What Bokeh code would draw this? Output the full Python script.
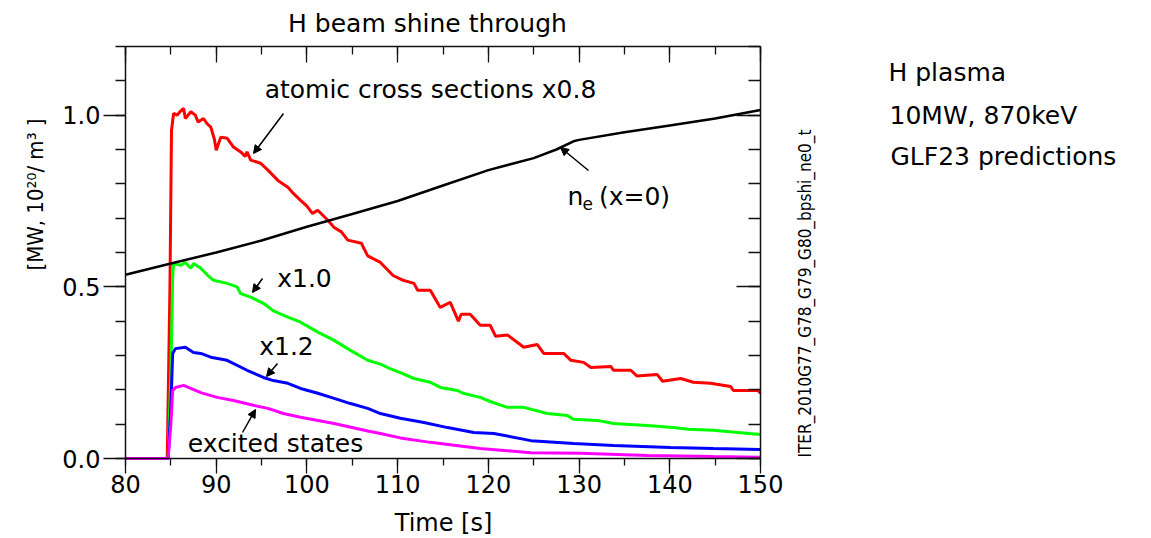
import math
from bokeh.plotting import figure
from bokeh.models import (Range1d, LinearAxis, FixedTicker, PrintfTickFormatter,
                          Label, Arrow, NormalHead)
from bokeh.embed import file_html
from bokeh.resources import INLINE

# ---------------- data ----------------
x_ticks = [80, 90, 100, 110, 120, 130, 140, 150]
x_minor = [80, 85, 90, 95, 100, 105, 110, 115, 120, 125, 130, 135, 140, 145, 150]
y_ticks = [0.0, 0.5, 1.0]
y_minor = [0.0, 0.1, 0.2, 0.3, 0.4, 0.5, 0.6, 0.7, 0.8, 0.9, 1.0, 1.1, 1.2]
X_LIM = (80, 150)
Y_LIM = (0.0, 1.2)

t_red = [80, 84.6, 84.9, 85.07, 85.3, 85.7, 86.0, 86.4, 86.6, 87.2, 87.7, 88.0, 88.6, 89.0,
         89.4, 89.8, 90.0, 90.5, 91.2, 91.9, 92.7, 93.2, 93.4, 93.8, 94.9, 95.7, 96.8, 97.9,
         98.5, 99.3, 100.0, 100.6, 101.2, 102.3, 103.0, 103.8, 104.5, 106.0, 106.7, 108.1,
         109.5, 110.5, 111.8, 112.2, 113.6, 114.7, 115.8, 116.7, 117.0, 118.0, 119.1, 120.2,
         120.8, 122.1, 123.9, 125.4, 126.1, 128.3, 129.1, 130.5, 131.3, 133.5, 133.8, 135.7,
         136.4, 138.6, 139.2, 141.2, 142.6, 144.5, 146.7, 147.0, 149.7, 150]
v_red = [0, 0, 0.5, 0.955, 1.005, 1.0, 1.01, 1.02, 0.99, 1.01, 1.0, 0.98, 0.99, 0.975,
         0.965, 0.93, 0.898, 0.936, 0.933, 0.907, 0.893, 0.88, 0.893, 0.869, 0.86, 0.84, 0.81, 0.79,
         0.772, 0.752, 0.735, 0.714, 0.723, 0.694, 0.673, 0.66, 0.636, 0.627, 0.59, 0.571,
         0.533, 0.52, 0.51, 0.49, 0.49, 0.44, 0.455, 0.40, 0.42, 0.42, 0.388, 0.388,
         0.356, 0.36, 0.324, 0.332, 0.306, 0.306, 0.286, 0.28, 0.265, 0.268, 0.257, 0.257,
         0.24, 0.245, 0.225, 0.233, 0.222, 0.219, 0.21, 0.198, 0.198, 0.19]

t_green = [80, 84.7, 85.0, 85.2, 85.3, 86.1, 86.6, 87.2, 87.5, 88.3, 89.0, 89.7, 91.2, 92.3,
           92.7, 93.8, 95.2, 96.3, 97.9, 99.3, 101.2, 103.0, 104.8, 106.7, 108.1, 108.9, 110.3,
           111.8, 113.6, 114.7, 116.6, 117.2, 119.1, 120.2, 122.1, 123.9, 126.5, 128.7, 129.4,
           132.0, 133.8, 137.5, 140.4, 142.0, 144.8, 147.5, 150]
v_green = [0, 0, 0.25, 0.528, 0.568, 0.563, 0.571, 0.554, 0.568, 0.554, 0.535, 0.519, 0.51, 0.5,
           0.48, 0.47, 0.452, 0.43, 0.412, 0.397, 0.368, 0.344, 0.315, 0.286, 0.275, 0.265, 0.25,
           0.233, 0.222, 0.207, 0.198, 0.19, 0.178, 0.166, 0.149, 0.149, 0.131, 0.125, 0.114,
           0.111, 0.102, 0.096, 0.09, 0.085, 0.082, 0.076, 0.07]

t_blue = [80, 84.7, 85.0, 85.2, 85.5, 86.6, 87.5, 88.3, 89.4, 91.2, 93.4, 95.2, 96.3, 97.9,
          99.3, 101.2, 103.0, 104.8, 106.7, 108.1, 110.3, 112.9, 115.5, 118.4, 120.6, 124.7,
          129.4, 133.8, 140.1, 144.8, 150]
v_blue = [0, 0, 0.15, 0.306, 0.32, 0.324, 0.309, 0.306, 0.295, 0.286, 0.257, 0.236, 0.227, 0.219,
          0.204, 0.19, 0.175, 0.16, 0.146, 0.131, 0.117, 0.105, 0.09, 0.076, 0.073, 0.052,
          0.044, 0.038, 0.032, 0.029, 0.026]

t_mag = [80, 84.7, 85.0, 85.2, 85.5, 86.4, 88.3, 90.1, 91.9, 94.1, 95.7, 97.4, 99.3, 103.0,
         106.7, 108.1, 110.3, 113.6, 119.1, 124.7, 130.2, 137.5, 144.8, 150]
v_mag = [0, 0, 0.1, 0.198, 0.207, 0.213, 0.192, 0.178, 0.169, 0.155, 0.146, 0.131, 0.12, 0.102,
         0.08, 0.073, 0.06, 0.047, 0.029, 0.017, 0.015, 0.009, 0.006, 0.004]

t_ne = [80, 85, 90, 95, 100, 105, 110, 115, 120, 125, 127.5, 129.5, 130, 135, 140, 145, 150]
v_ne = [0.535, 0.568, 0.60, 0.635, 0.675, 0.712, 0.75, 0.795, 0.84, 0.875, 0.9, 0.925, 0.928,
        0.95, 0.97, 0.99, 1.015]

FONT = "DejaVu Sans"
NARROW = "'Liberation Sans Narrow', 'DejaVu Sans Condensed', 'Liberation Sans'"

# ---------------- geometry (pixels) ----------------
W, H = 1151, 538
FL, FR, FT, FB = 125, 760, 46, 458          # plot box edges in pixels
sx = (FR - FL) / (X_LIM[1] - X_LIM[0])
sy = (FB - FT) / (Y_LIM[1] - Y_LIM[0])
x_range = Range1d(X_LIM[0] - FL / sx, X_LIM[0] + (W - FL) / sx)
y_range = Range1d(Y_LIM[0] - (H - FB) / sy, Y_LIM[0] + FB / sy)


def tx(px):
    return X_LIM[0] + (px - FL) / sx


def vy(py):
    return Y_LIM[0] + (FB - py) / sy


p = figure(width=W, height=H, x_range=x_range, y_range=y_range,
           output_backend="svg", toolbar_location=None, title=None,
           x_axis_location=None, y_axis_location=None, min_border=0)
p.xgrid.visible = False
p.ygrid.visible = False
p.outline_line_color = None
p.background_fill_color = "white"
p.border_fill_color = "white"


def style(ax, ticks, minor, inside, major_len, minor_len, labels):
    ax.ticker = FixedTicker(ticks=ticks, minor_ticks=minor)
    ax.axis_line_color = "#111111"
    ax.axis_line_width = 1.5
    ax.major_tick_line_color = "#111111"
    ax.minor_tick_line_color = "#111111"
    ax.major_tick_line_width = 1.3
    ax.minor_tick_line_width = 1.3
    if inside:
        ax.major_tick_in, ax.major_tick_out = major_len, 0
        ax.minor_tick_in, ax.minor_tick_out = minor_len, 0
    else:
        ax.major_tick_in, ax.major_tick_out = 0, major_len
        ax.minor_tick_in, ax.minor_tick_out = 0, minor_len
    if labels:
        ax.major_label_text_font = FONT
        ax.major_label_text_font_size = "24px"
        ax.major_label_text_color = "black"
    else:
        ax.major_label_text_alpha = 0
        ax.major_label_text_font_size = "1px"


xb = LinearAxis(fixed_location=Y_LIM[0], bounds=X_LIM)
style(xb, x_ticks, x_minor, False, 15, 7, True)
xb.major_label_standoff = 1
p.add_layout(xb, "below")

yl = LinearAxis(fixed_location=X_LIM[0], bounds=Y_LIM)
style(yl, y_ticks, y_minor, False, 22, 10, True)
yl.formatter = PrintfTickFormatter(format="%.1f")
yl.major_label_standoff = 3
p.add_layout(yl, "left")

xt = LinearAxis(fixed_location=Y_LIM[1], bounds=X_LIM)
style(xt, x_ticks, x_minor, True, 16, 8, False)
p.add_layout(xt, "above")

yr = LinearAxis(fixed_location=X_LIM[1], bounds=Y_LIM)
style(yr, y_ticks, y_minor, True, 24, 12, False)
p.add_layout(yr, "right")

# ---------------- lines ----------------
p.line(t_red, v_red, line_color="#ff0000", line_width=3)
p.line(t_green, v_green, line_color="#00ff00", line_width=3)
p.line(t_blue, v_blue, line_color="#0000ff", line_width=3)
p.line(t_mag, v_mag, line_color="#ff00ff", line_width=3)
p.line(t_ne, v_ne, line_color="black", line_width=2.5)


# ---------------- texts ----------------
BASE_SHIFT = 0.3   # label anchor sits this many em above the glyph baseline


def lab(px, py, text, size=25, align="left", font=FONT, rotated=False):
    if rotated:
        px = px - BASE_SHIFT * size
        angle = math.pi / 2
    else:
        py = py - BASE_SHIFT * size
        angle = 0.0
    p.add_layout(Label(x=tx(px), y=vy(py), text=text, text_font=font,
                       text_font_size=f"{size}px", text_align=align,
                       text_baseline="alphabetic", text_color="black", angle=angle))


lab(427, 30, "H beam shine through", size=25, align="center")
lab(443, 530, "Time [s]", size=24, align="center")
lab(41.7, 194, "[MW, 10\u00b2\u2070/ m\u00b3 ]", size=22, align="center",
    font=NARROW, rotated=True)
lab(810, 457, "ITER_2010G77_G78_G79_G80_bpshi_ne0_t", size=17, align="left",
    font=NARROW, rotated=True)

lab(888, 79.3, "H plasma")
lab(889, 122, "10MW, 870keV")
lab(890, 163, "GLF23 predictions")

lab(430, 96.5, "atomic cross sections x0.8", align="center")
lab(304, 285, "x1.0", align="center")
lab(286, 353, "x1.2", align="center")
lab(275, 450, "excited states", align="center")
lab(567, 203, "n")
lab(582, 208, "e", size=17)
lab(634, 203, "(x=0)", align="center")

# ---------------- arrows (pixel anchor points of the pointers) ----------------
arrows = [
    ((283, 113), (253, 153)),
    ((588, 170), (560, 147)),
    ((262, 278), (252, 292)),
    ((277, 363), (266, 376)),
    ((242, 432), (255, 409)),
]
for (x0, y0), (x1, y1) in arrows:
    p.add_layout(Arrow(end=NormalHead(size=8, fill_color="black", line_color="black",
                                      line_width=1),
                       x_start=tx(x0), y_start=vy(y0), x_end=tx(x1), y_end=vy(y1),
                       line_color="black", line_width=1.5))

open("out.html", "w").write(file_html(p, INLINE))
